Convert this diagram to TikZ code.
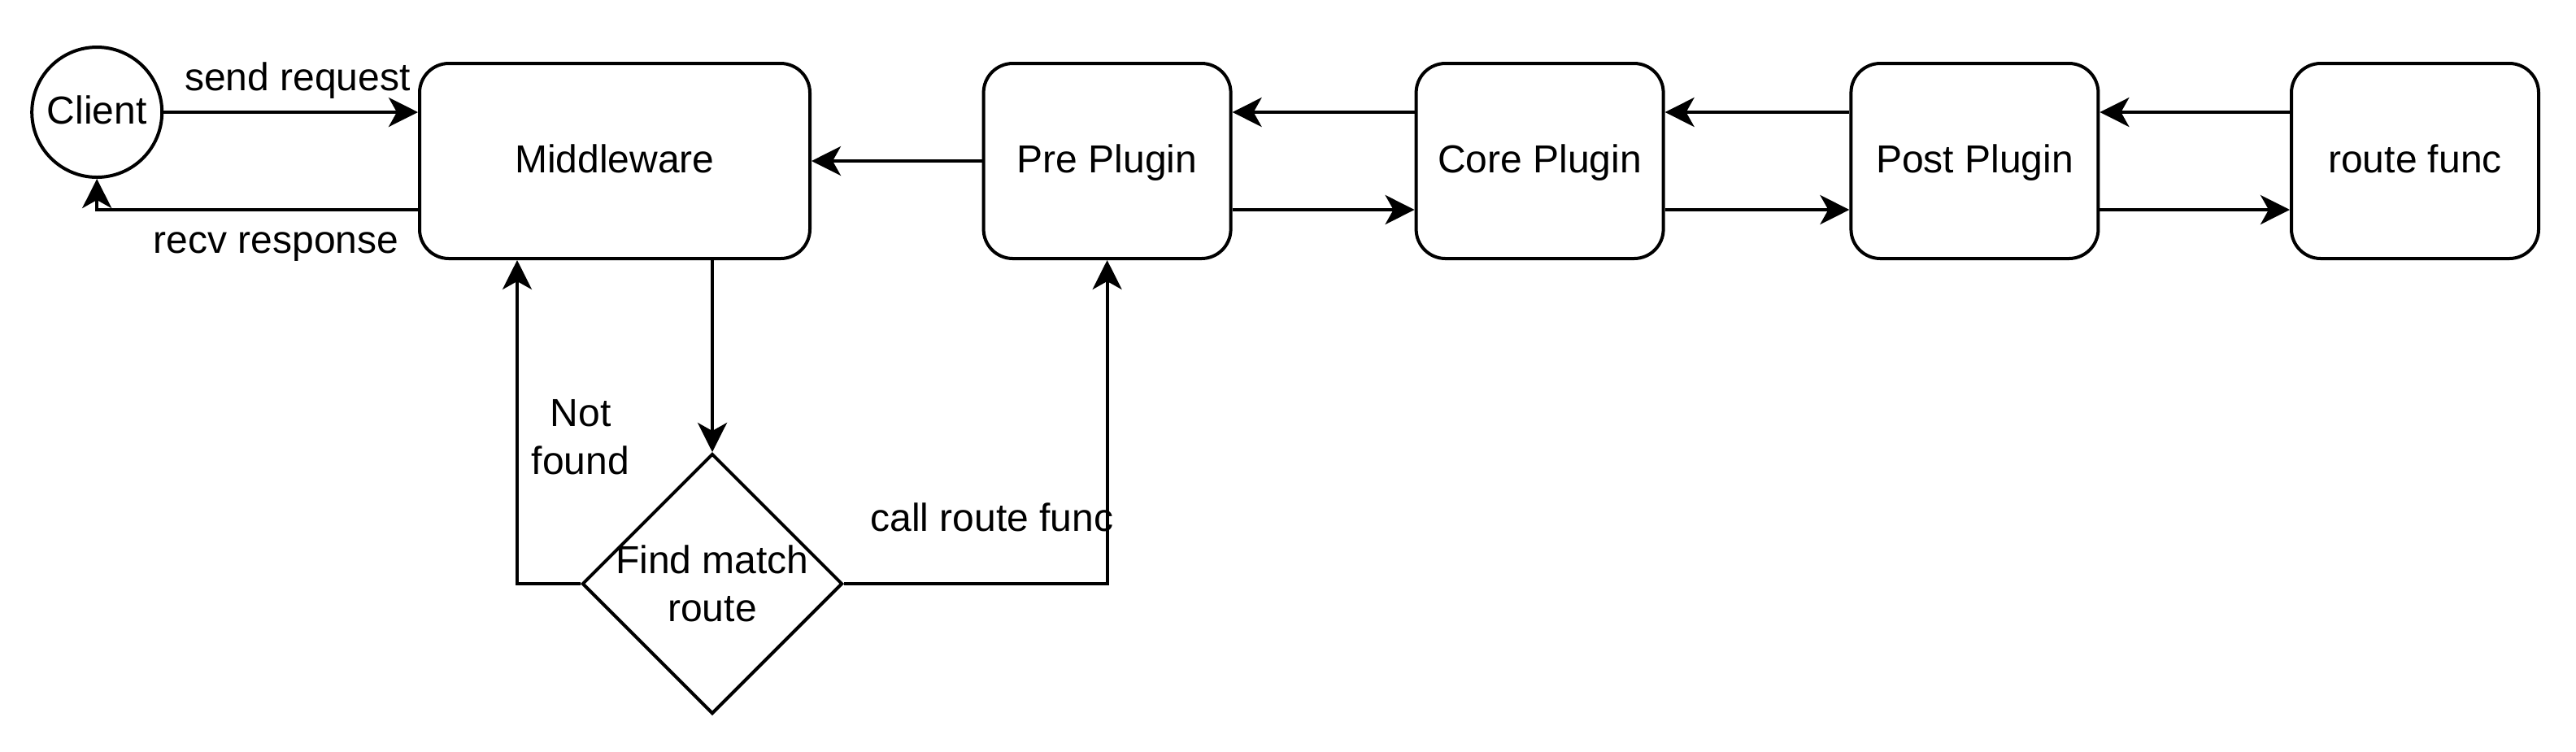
\documentclass[tikz,border=0pt]{standalone}
\usepackage{fontspec}
\setmainfont{Liberation Sans}
\usetikzlibrary{arrows.meta,shapes.geometric}
\begin{document}
\begin{tikzpicture}[x=1pt,y=-1pt,line width=1pt,
  font=\fontsize{12}{14.7}\selectfont,
  one/.style={text height=8.6pt,text depth=1.6pt},
  box/.style={draw,one,rounded corners=9pt,minimum width=76pt,minimum height=60pt,inner sep=0pt},
  arr/.style={-{Stealth[length=9pt,width=9pt,inset=2.5pt]}},
  lbl/.style={inner sep=0pt,align=center}]
\useasboundingbox (0,0) rectangle (792,231);
% nodes
\node[draw,circle,one,minimum size=40pt,inner sep=0pt] (client) at (29.8,34.5) {Client};
\node[box,minimum width=120pt] (mw) at (189,49.5) {Middleware};
\node[box] (pre) at (340.4,49.5) {Pre Plugin};
\node[box] (core) at (473.4,49.5) {Core Plugin};
\node[box] (post) at (607.1,49.5) {Post Plugin};
\node[box] (rf) at (742.5,49.5) {route func};
\node[draw,diamond,minimum width=80pt,minimum height=80pt,inner sep=0pt] (find) at (219,179.5) {};
\node[lbl] (findlbl) at (find.center) {Find match\\route};
% labels
\node[lbl,one] (lsend) at (91.5,24.4) {send request};
\node[lbl,one] (lrecv) at (84.9,74.3) {recv response};
\node[lbl] (lnot) at (178.5,134.5) {Not\\found};
\node[lbl] (lcall) at (305,159) {call route func};
% connectors
\draw[arr] (client.east) -- (mw.west |- client.east);
\draw[arr] ([yshift=-15pt]mw.west) -| (client.south);
\draw[arr] (pre.west) -- (mw.east);
\draw[arr] ([yshift=15pt]core.west) -- ([yshift=15pt]pre.east);
\draw[arr] ([yshift=-15pt]pre.east) -- ([yshift=-15pt]core.west);
\draw[arr] ([yshift=15pt]post.west) -- ([yshift=15pt]core.east);
\draw[arr] ([yshift=-15pt]core.east) -- ([yshift=-15pt]post.west);
\draw[arr] ([yshift=15pt]rf.west) -- ([yshift=15pt]post.east);
\draw[arr] ([yshift=-15pt]post.east) -- ([yshift=-15pt]rf.west);
\draw[arr] ([xshift=30pt]mw.south) -- (find.north);
\draw[arr] (find.west) -| ([xshift=-30pt]mw.south);
\draw[arr] (find.east) -| (pre.south);
\end{tikzpicture}
\end{document}
